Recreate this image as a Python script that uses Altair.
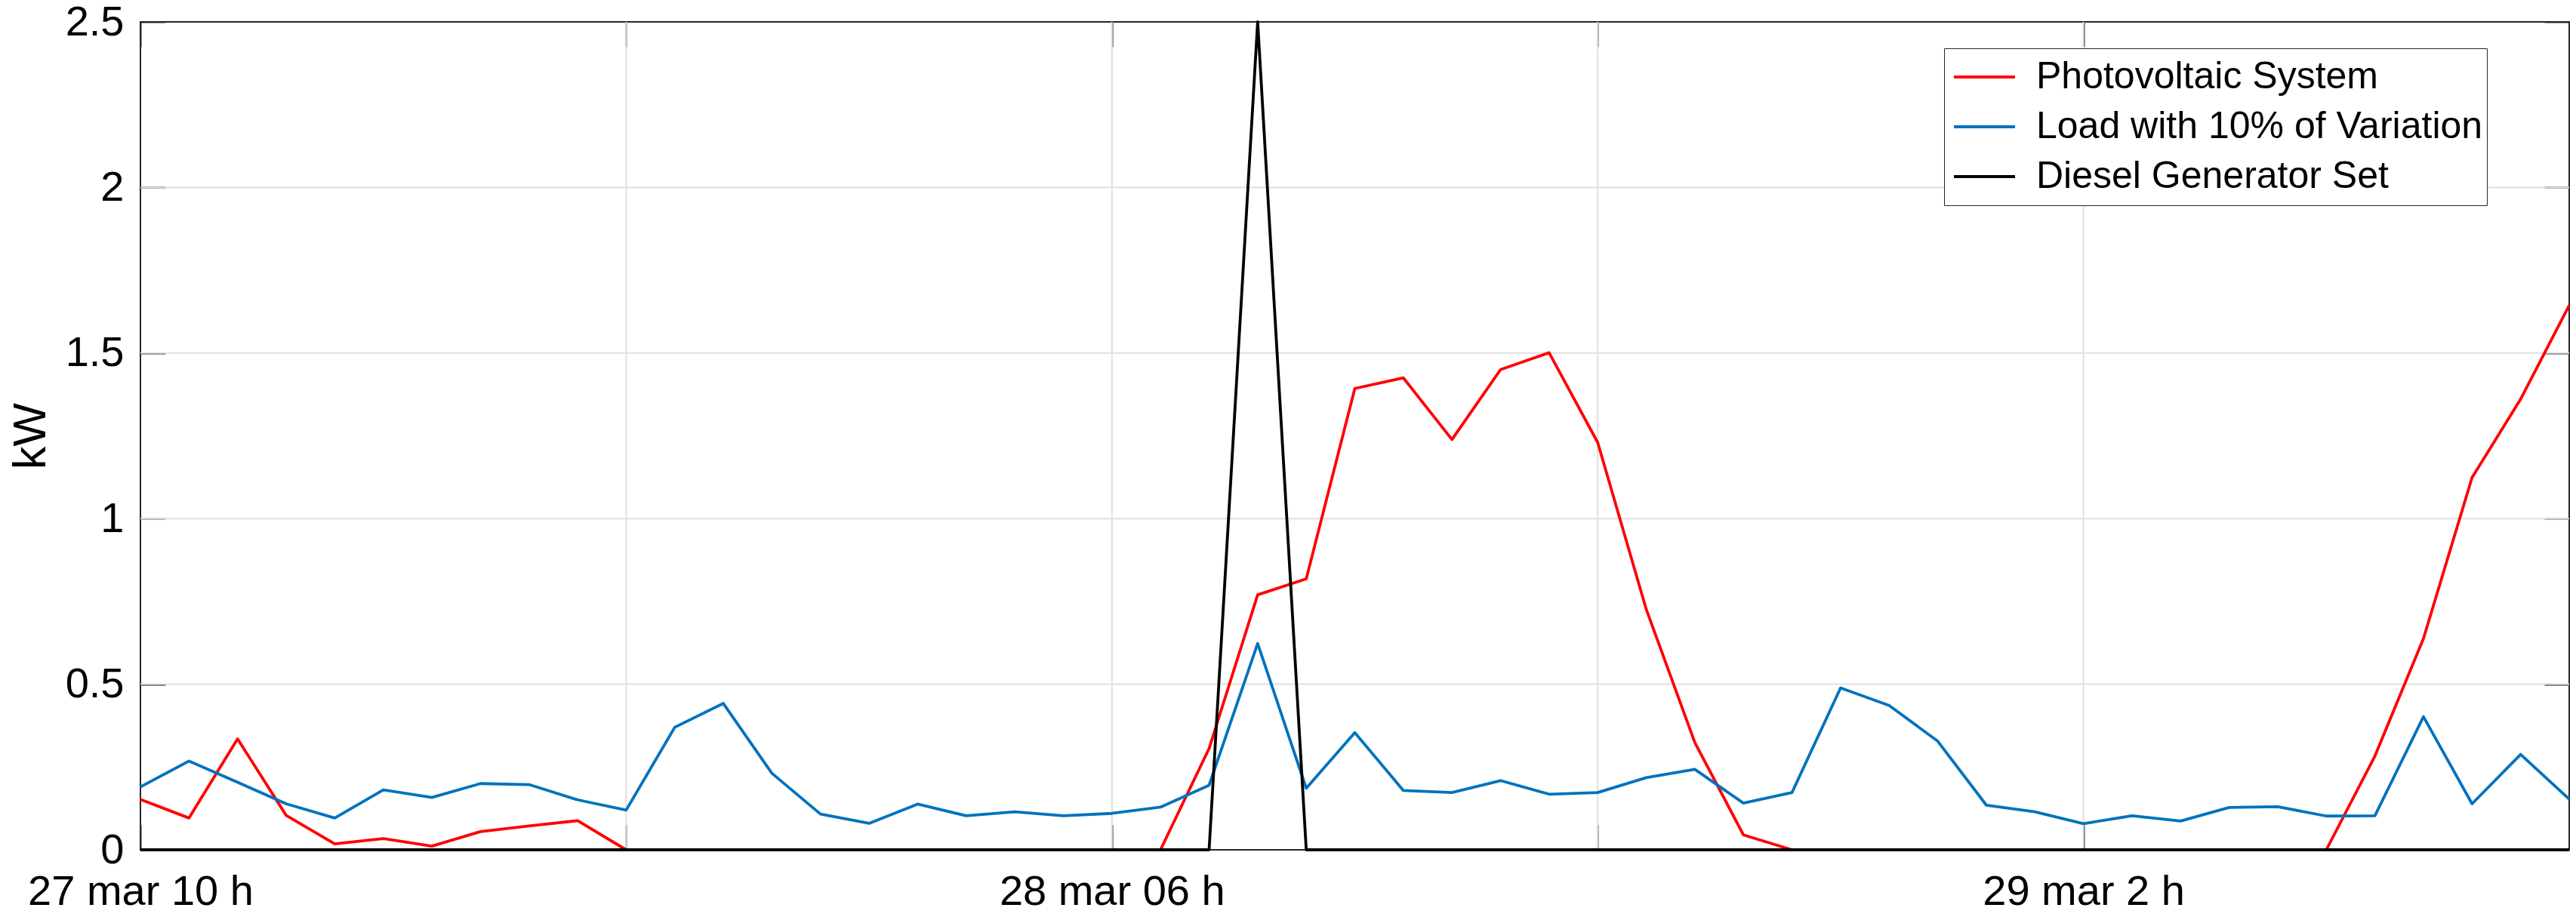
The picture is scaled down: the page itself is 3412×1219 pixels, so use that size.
import altair as alt
import pandas as pd

# ---------------- data ----------------
hours = [0, 1, 2, 3, 4, 5, 6, 7, 8, 9, 10, 11, 12, 13, 14, 15, 16, 17, 18, 19, 20,
         21, 22, 23, 24, 25, 26, 27, 28, 29, 30, 31, 32, 33, 34, 35, 36, 37, 38, 39, 40,
         41, 42, 43, 44, 45, 46, 47, 48, 49, 50]

pv = [0.152, 0.096, 0.335, 0.104, 0.018, 0.034, 0.011, 0.055, 0.072, 0.088, 0.0,
      0.0, 0.0, 0.0, 0.0, 0.0, 0.0, 0.0, 0.0, 0.0, 0.0,
      0.0, 0.306, 0.770, 0.818, 1.393, 1.425, 1.239, 1.450, 1.501, 1.230,
      0.726, 0.324, 0.045, 0.0, 0.0, 0.0, 0.0, 0.0, 0.0, 0.0,
      0.0, 0.0, 0.0, 0.0, 0.0, 0.283, 0.638, 1.124, 1.361, 1.644]

load = [0.190, 0.268, 0.204, 0.139, 0.096, 0.181, 0.158, 0.200, 0.197, 0.151, 0.120,
        0.370, 0.442, 0.231, 0.108, 0.080, 0.138, 0.103, 0.115, 0.103, 0.110,
        0.129, 0.195, 0.623, 0.186, 0.354, 0.179, 0.173, 0.209, 0.168, 0.173,
        0.218, 0.243, 0.141, 0.173, 0.489, 0.436, 0.328, 0.135, 0.115, 0.079,
        0.103, 0.087, 0.128, 0.130, 0.102, 0.103, 0.402, 0.139, 0.288, 0.153]

diesel = [0, 0, 0, 0, 0, 0, 0, 0, 0, 0, 0,
          0, 0, 0, 0, 0, 0, 0, 0, 0, 0,
          0, 0, 2.5, 0, 0, 0, 0, 0, 0, 0,
          0, 0, 0, 0, 0, 0, 0, 0, 0, 0,
          0, 0, 0, 0, 0, 0, 0, 0, 0, 0]

series_names = ["Photovoltaic System", "Load with 10% of Variation", "Diesel Generator Set"]
series_colors = ["#FF0000", "#0072BD", "#000000"]

x_tick_hours = [0, 10, 20, 30, 40, 50]
x_tick_labels = ["27 mar 10 h", "", "28 mar 06 h", "", "29 mar 2 h", ""]
y_ticks = [0, 0.5, 1, 1.5, 2, 2.5]
y_tick_labels = ["0", "0.5", "1", "1.5", "2", "2.5"]
y_title = "kW"

# ---------------- build tables ----------------
rows = []
for name, vals in zip(series_names, [pv, load, diesel]):
    for h, v in zip(hours, vals):
        rows.append({"hour": h, "kw": v, "series": name})
df = pd.DataFrame(rows)

grid_x = pd.DataFrame({"h": x_tick_hours[1:-1]})
grid_y = pd.DataFrame({"v": y_ticks[1:-1]})


def label_expr(vals, labs):
    expr = "''"
    for v, l in reversed(list(zip(vals, labs))):
        expr = f"datum.value == {v} ? '{l}' : ({expr})"
    return expr


FONT = "Liberation Sans"
AX = "#262626"
W, H = 3217, 1097
TICK = 33

xs = alt.Scale(domain=[0, 50], nice=False, zero=False)
ys = alt.Scale(domain=[0, 2.5], nice=False)
cs = alt.Scale(domain=series_names, range=series_colors)

legend = alt.Legend(
    orient="none", legendX=2389, legendY=35, title=None,
    symbolType="stroke", symbolSize=6561, symbolStrokeWidth=3.8,
    labelFont=FONT, labelFontSize=50, labelColor="black", labelLimit=2000,
    labelOffset=26, padding=5, clipHeight=66, rowPadding=0, symbolOffset=6,
    strokeColor=AX, fillColor="white",
)

x_bottom = alt.Axis(
    orient="bottom", values=x_tick_hours, labelExpr=label_expr(x_tick_hours, x_tick_labels),
    tickSize=TICK, offset=-TICK, domain=False, grid=False, tickColor=AX, tickWidth=2,
    labelFont=FONT, labelFontSize=56, labelColor="black", labelBaseline="alphabetic",
    labelPadding=72, labelFlush=False, labelOverlap=False, labelBound=False,
    labelLimit=2000, title=None,
)
y_left = alt.Axis(
    orient="left", values=y_ticks, labelExpr=label_expr(y_ticks, y_tick_labels),
    tickSize=TICK, offset=-TICK, domain=False, grid=False, tickColor=AX, tickWidth=2,
    labelFont=FONT, labelFontSize=56, labelColor="black", labelPadding=22,
    labelFlush=False, labelOverlap=False, labelLimit=2000,
    title=y_title, titleFont=FONT, titleFontSize=61, titleFontWeight="normal",
    titleColor="black", titleAngle=270, titleBaseline="middle", titleX=-178,
    titleY=H / 2, titleAnchor="middle",
)
x_top = alt.Axis(
    orient="top", values=x_tick_hours, labels=False, tickSize=TICK, offset=-TICK,
    domain=False, grid=False, tickColor=AX, tickWidth=2, title=None,
)
y_right = alt.Axis(
    orient="right", values=y_ticks, labels=False, tickSize=TICK, offset=-TICK,
    domain=False, grid=False, tickColor=AX, tickWidth=2, title=None,
)

gx = alt.Chart(grid_x).mark_rule(color="#dfdfdf", strokeWidth=2).encode(
    x=alt.X("h:Q", scale=xs, axis=None))
gy = alt.Chart(grid_y).mark_rule(color="#dfdfdf", strokeWidth=2).encode(
    y=alt.Y("v:Q", scale=ys, axis=None))

base = alt.Chart(df)


def line(name, xaxis, yaxis):
    return base.transform_filter(alt.datum.series == name).mark_line(
        strokeWidth=3.8, strokeJoin="round").encode(
        x=alt.X("hour:Q", scale=xs, axis=xaxis),
        y=alt.Y("kw:Q", scale=ys, axis=yaxis),
        color=alt.Color("series:N", scale=cs, legend=legend),
    )


l_pv = line(series_names[0], x_bottom, y_left)
l_load = line(series_names[1], x_top, y_right)
l_dg = line(series_names[2], None, None)

chart = alt.layer(gx, gy, l_pv, l_load, l_dg).resolve_axis(
    x="independent", y="independent"
).properties(
    width=W, height=H,
    autosize=alt.AutoSizeParams(type="none"),
    padding={"left": 178, "top": 21, "right": 1, "bottom": 84},
    background="white",
).configure_view(stroke=AX, strokeWidth=2)

chart.save("out.html", embed_options={"renderer": "svg", "actions": False})
